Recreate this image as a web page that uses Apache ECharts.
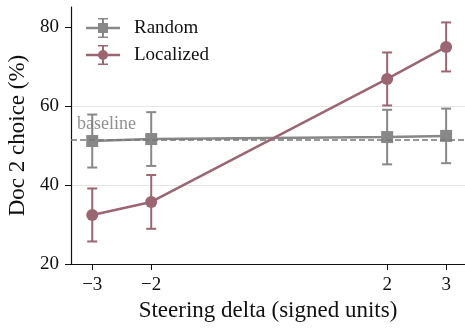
<!DOCTYPE html>
<html>
<head>
<meta charset="utf-8">
<script src="https://cdn.jsdelivr.net/npm/echarts@6/dist/echarts.min.js"></script>
<style>
  html, body { margin: 0; padding: 0; background: #fff; }
  #chart { width: 465px; height: 328px; }
</style>
</head>
<body>
<div id="chart"></div>
<script>
// steering delta vs doc-2 choice, two conditions with error bars
const deltas = [-3, -2, 2, 3];
const xTicks = [-3, -2, 2, 3];
const yTicks = [20, 40, 60, 80];

const randomMean = [51.1, 51.6, 52.1, 52.4];
const randomErr = [6.7, 6.8, 6.9, 6.9];
const localizedMean = [32.4, 35.7, 66.8, 74.9];
const localizedErr = [6.7, 6.8, 6.7, 6.2];
const baseline = 51.5;

const GRAY = '#888888';
const ROSE = '#9b6672';
const FONT = '"Liberation Serif", "DejaVu Serif", serif';

// legend glyph: line + errorbar + marker, in a 34x20 box (all subpaths clockwise)
const sqIcon = 'path://M0,8.8H34V11.2H0Z M16,1H18V19H16Z M12,0H22V1.6H12Z M12,18.4H22V20H12Z M12,5H22V15H12Z';
const ciIcon = 'path://M0,8.8H34V11.2H0Z M16,1H18V19H16Z M12,0H22V1.6H12Z M12,18.4H22V20H12Z M12,10A5,5 0 1,1 22,10A5,5 0 1,1 12,10Z';

const pts = (ys) => deltas.map((x, i) => [x, ys[i]]);
const errs = (ys, es) => deltas.map((x, i) => [x, ys[i] - es[i], ys[i] + es[i]]);

function errorBars(name, color, data) {
  return {
    type: 'custom',
    name,
    data,
    z: 3,
    renderItem(params, api) {
      const lo = api.coord([api.value(0), api.value(1)]);
      const hi = api.coord([api.value(0), api.value(2)]);
      const cap = 5;
      const style = { stroke: color, lineWidth: 2 };
      return {
        type: 'group',
        children: [
          { type: 'line', shape: { x1: lo[0], y1: lo[1], x2: hi[0], y2: hi[1] }, style },
          { type: 'line', shape: { x1: lo[0] - cap, y1: lo[1], x2: lo[0] + cap, y2: lo[1] }, style },
          { type: 'line', shape: { x1: hi[0] - cap, y1: hi[1], x2: hi[0] + cap, y2: hi[1] }, style }
        ]
      };
    }
  };
}

const chart = echarts.init(document.getElementById('chart'), null, { renderer: 'canvas' });

chart.setOption({
  animation: false,
  textStyle: { fontFamily: FONT },
  grid: { left: 71, right: 0, top: 7, bottom: 64, outerBoundsMode: 'none' },
  legend: {
    left: 81, top: 13, orient: 'vertical',
    itemWidth: 34, itemHeight: 20, itemGap: 7,
    textStyle: { fontFamily: FONT, fontSize: 19, color: '#111', padding: [0, 0, 0, 9] },
    data: [
      { name: 'Random', icon: sqIcon, itemStyle: { color: GRAY } },
      { name: 'Localized', icon: ciIcon, itemStyle: { color: ROSE } }
    ]
  },
  xAxis: {
    type: 'value', min: -3.36, max: 3.32,
    name: 'Steering delta (signed units)', nameLocation: 'middle', nameGap: 23,
    nameTextStyle: { fontFamily: FONT, fontSize: 23, color: '#111' },
    axisLine: { onZero: false, lineStyle: { color: '#111', width: 1.2 } },
    axisTick: { customValues: xTicks, length: 6, lineStyle: { color: '#111' } },
    axisLabel: {
      customValues: xTicks, margin: 12, fontFamily: FONT, fontSize: 19, color: '#111',
      formatter: (v) => String(v).replace('-', '\u2212')
    },
    splitLine: { show: false }
  },
  yAxis: {
    type: 'value', min: 20, max: 85, interval: 20,
    name: 'Doc 2 choice (%)', nameLocation: 'middle', nameGap: 41,
    nameTextStyle: { fontFamily: FONT, fontSize: 23, color: '#111' },
    axisLine: { show: true, onZero: false, lineStyle: { color: '#111', width: 1.2 } },
    axisTick: { show: true, customValues: yTicks, length: 6, lineStyle: { color: '#111' } },
    axisLabel: { customValues: yTicks, margin: 12, fontFamily: FONT, fontSize: 19, color: '#111' },
    splitLine: { show: true, showMinLine: false, showMaxLine: false, lineStyle: { color: '#e6e6e6', width: 1 } }
  },
  series: [
    {
      type: 'line', name: 'baseline-ref', data: [], silent: true, z: 1,
      markLine: {
        symbol: 'none', silent: true,
        lineStyle: { color: '#777', type: [6, 3], width: 1.5 },
        label: {
          show: true, position: 'insideStartTop', formatter: 'baseline',
          fontFamily: FONT, fontSize: 18, color: 'rgba(125,125,125,0.85)', distance: [6, 6]
        },
        data: [{ yAxis: baseline }]
      }
    },
    errorBars('Random', GRAY, errs(randomMean, randomErr)),
    {
      type: 'line', name: 'Random', data: pts(randomMean), z: 4,
      symbol: 'rect', symbolSize: 12,
      lineStyle: { color: GRAY, width: 2.5 }, itemStyle: { color: GRAY }
    },
    errorBars('Localized', ROSE, errs(localizedMean, localizedErr)),
    {
      type: 'line', name: 'Localized', data: pts(localizedMean), z: 5,
      symbol: 'circle', symbolSize: 12,
      lineStyle: { color: ROSE, width: 2.5 }, itemStyle: { color: ROSE }
    }
  ]
});
</script>
</body>
</html>
